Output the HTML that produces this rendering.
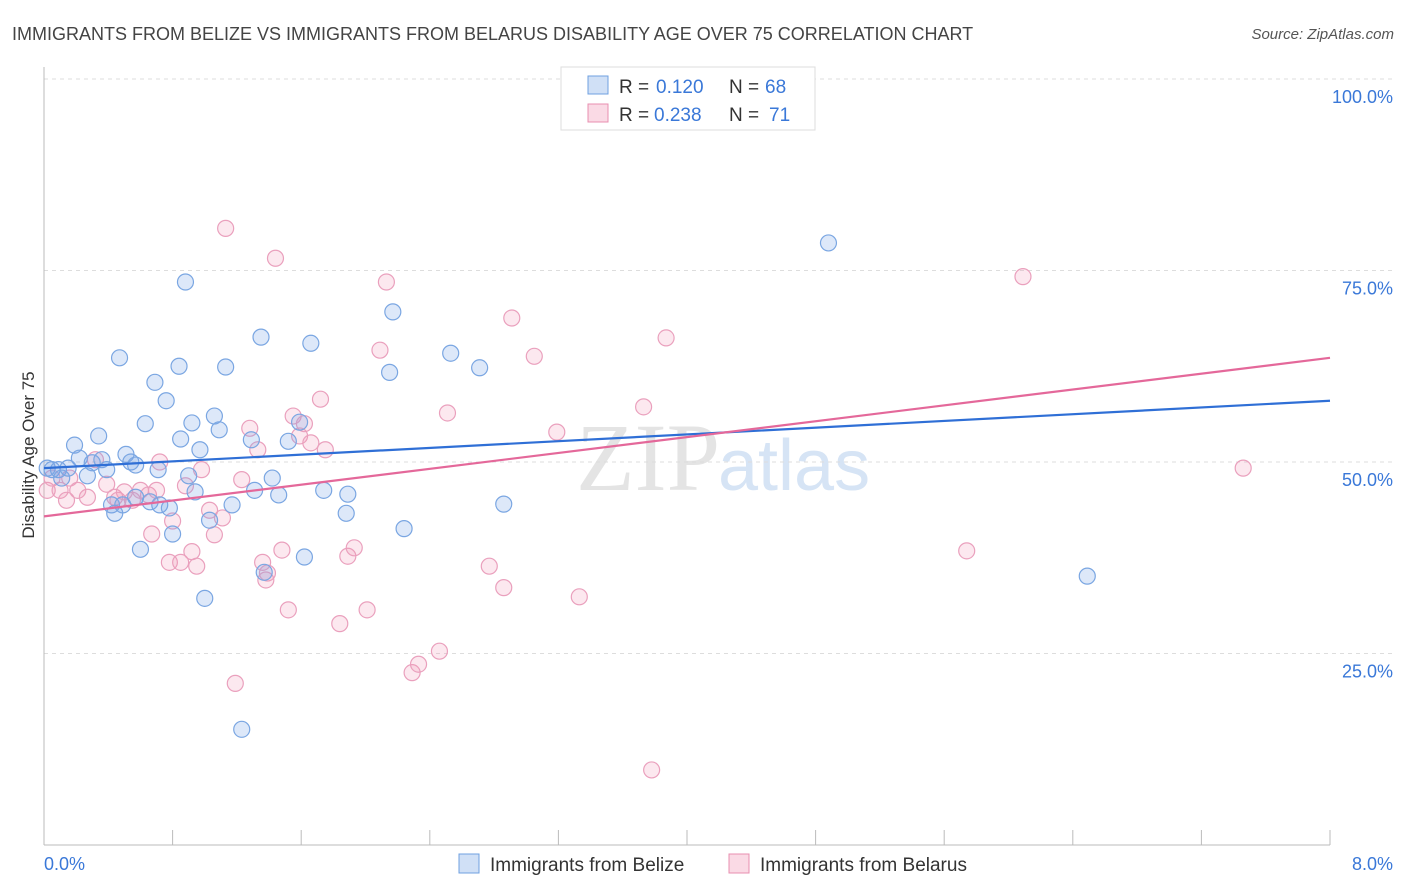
<!DOCTYPE html>
<html><head><meta charset="utf-8">
<style>
body{margin:0;background:#fff;font-family:"Liberation Sans",sans-serif;}
#wrap{position:relative;width:1406px;height:892px;overflow:hidden;}
</style></head>
<body>
<div id="wrap">
<svg id="chart" width="1406" height="892" xmlns="http://www.w3.org/2000/svg">
<text x="12" y="40" font-size="18" fill="#444">IMMIGRANTS FROM BELIZE VS IMMIGRANTS FROM BELARUS DISABILITY AGE OVER 75 CORRELATION CHART</text>
<text x="1394" y="39" font-size="15" fill="#555" font-style="italic" text-anchor="end">Source: ZipAtlas.com</text>
<text x="720" y="490" font-size="96" fill="#e4e4e4" font-family="Liberation Serif" text-anchor="end">ZIP</text>
<text x="718" y="490" font-size="72" fill="#d6e4f5">atlas</text>
<text x="34" y="455" font-size="17" fill="#333" text-anchor="middle" transform="rotate(-90 34 455)">Disability Age Over 75</text>
<g id="grid"></g><g id="pts"></g><g id="lines"></g>
<g>
<rect x="561" y="67" width="254" height="63" fill="#fff" stroke="#ddd"/>
<rect x="588" y="76" width="20" height="18" fill="rgba(120,165,230,0.35)" stroke="#6fa0e0"/>
<rect x="588" y="104" width="20" height="18" fill="rgba(240,150,180,0.35)" stroke="#e88fb0"/>
<text x="619" y="93" font-size="19" fill="#333">R =</text>
<text x="656" y="93" font-size="19" fill="#3a78d8">0.120</text>
<text x="729" y="93" font-size="19" fill="#333">N =</text>
<text x="765" y="93" font-size="19" fill="#3a78d8">68</text>
<text x="619" y="121" font-size="19" fill="#333">R =</text>
<text x="654" y="121" font-size="19" fill="#3a78d8">0.238</text>
<text x="729" y="121" font-size="19" fill="#333">N =</text>
<text x="769" y="121" font-size="19" fill="#3a78d8">71</text>
</g>
<g>
<rect x="459" y="854" width="20" height="19" fill="rgba(120,165,230,0.35)" stroke="#6fa0e0"/>
<text x="490" y="871" font-size="19" fill="#333">Immigrants from Belize</text>
<rect x="729" y="854" width="20" height="19" fill="rgba(240,150,180,0.35)" stroke="#e88fb0"/>
<text x="760" y="871" font-size="19" fill="#333">Immigrants from Belarus</text>
</g>
</svg>
</div>
<script>
const belizeX=[0.02,0.05,0.09,0.11,0.15,0.19,0.22,0.27,0.30,0.34,0.36,0.39,0.42,0.44,0.47,0.49,0.51,0.54,0.57,0.57,0.60,0.63,0.66,0.69,0.71,0.72,0.76,0.78,0.80,0.84,0.85,0.88,0.90,0.92,0.94,0.97,1.00,1.03,1.06,1.09,1.13,1.17,1.23,1.29,1.31,1.35,1.37,1.42,1.46,1.52,1.59,1.62,1.66,1.74,1.88,1.89,2.15,2.17,2.24,2.53,2.71,2.86,4.88,6.49];
const belizeY=[49.2,49.0,49.0,47.9,49.2,52.2,50.5,48.2,49.9,53.4,50.3,49.0,44.4,43.3,63.6,44.4,51.0,50.0,49.6,45.4,38.6,55.0,44.8,60.4,49.0,44.4,58.0,44.0,40.6,62.5,53.0,73.5,48.2,55.1,46.1,51.6,32.2,42.4,56.0,54.2,62.4,44.4,15.1,52.9,46.3,66.3,35.6,47.9,45.7,52.7,55.2,37.6,65.5,46.3,43.3,45.8,61.7,69.6,41.3,64.2,62.3,44.5,78.6,35.1];
const belarusX=[0.02,0.05,0.10,0.14,0.16,0.21,0.27,0.32,0.39,0.44,0.46,0.50,0.55,0.60,0.65,0.67,0.70,0.72,0.78,0.80,0.85,0.88,0.92,0.95,0.98,1.03,1.06,1.11,1.13,1.19,1.23,1.28,1.33,1.36,1.38,1.39,1.44,1.48,1.52,1.55,1.59,1.62,1.66,1.72,1.75,1.84,1.89,1.93,2.01,2.09,2.13,2.29,2.33,2.46,2.51,2.77,2.86,2.91,3.05,3.19,3.33,3.73,3.78,3.87,4.17,4.33,5.74,6.09,7.46];
const belarusY=[46.3,47.9,46.3,45.0,47.9,46.3,45.4,50.3,47.1,45.4,45.0,46.1,45.0,46.3,45.7,40.6,46.3,50.0,36.9,42.3,36.9,46.9,38.3,36.4,49.0,43.7,40.5,42.7,80.5,21.1,47.7,54.4,51.6,36.9,34.6,35.5,76.6,38.5,30.7,56.0,53.4,55.0,52.5,58.2,51.6,28.9,37.7,38.8,30.7,64.6,73.5,22.5,23.6,25.3,56.4,36.4,33.6,68.8,63.8,53.9,32.4,57.2,9.8,66.2,99.7,99.7,38.4,74.2,49.2];
const trendBelize=[49.2,58.0];
const trendBelarus=[42.9,63.6];
const yTicks=[25,50,75,100];
const xTicks=[0,0.8,1.6,2.4,3.2,4.0,4.8,5.6,6.4,7.2,8.0];
const NS="http://www.w3.org/2000/svg";
const X=v=>44+v/8*1286, Y=v=>845-v/100*766;
function mk(tag,attrs,parent){const e=document.createElementNS(NS,tag);for(const k in attrs)e.setAttribute(k,attrs[k]);parent.appendChild(e);return e;}
const grid=document.getElementById('grid');
yTicks.forEach(t=>{
  const l=mk('line',{x1:44,x2:1393,y1:Y(t),y2:Y(t),stroke:'#ddd','stroke-dasharray':'4,4'},grid);
  
  
  const tx=mk('text',{x:1393,y:Y(t)+24,'font-size':18,fill:'#3a78d8','text-anchor':'end'},grid);
  tx.textContent=t.toFixed(1)+'%';
  
  
});
const ax=mk('line',{x1:44,x2:1330,y1:845,y2:845,stroke:'#bbb'},grid);


const ay=mk('line',{x1:44,x2:44,y1:67,y2:845,stroke:'#bbb'},grid);


xTicks.forEach(t=>{
  const l=mk('line',{x1:X(t),x2:X(t),y1:830,y2:845,stroke:'#bbb'},grid);
  
  
});
const xl0=mk('text',{x:44,y:870,'font-size':18,fill:'#3a78d8'},grid);xl0.textContent=xTicks[0].toFixed(1)+'%';


const xl1=mk('text',{x:1393,y:870,'font-size':18,fill:'#3a78d8','text-anchor':'end'},grid);xl1.textContent=xTicks[xTicks.length-1].toFixed(1)+'%';


const pts=document.getElementById('pts');
belarusX.forEach((x,i)=>{
  const c=mk('circle',{cx:X(x),cy:Y(belarusY[i]),r:8,fill:'rgba(240,150,180,0.22)',stroke:'#eaa0bd','stroke-width':1.2},pts);
  
  
});
belizeX.forEach((x,i)=>{
  const c=mk('circle',{cx:X(x),cy:Y(belizeY[i]),r:8,fill:'rgba(120,165,230,0.25)',stroke:'#7aa6e2','stroke-width':1.2},pts);
  
  
});
const lines=document.getElementById('lines');
const lb=mk('line',{x1:X(0),y1:Y(trendBelize[0]),x2:X(8),y2:Y(trendBelize[1]),stroke:'#2f6fd6','stroke-width':2.2},lines);


const lp=mk('line',{x1:X(0),y1:Y(trendBelarus[0]),x2:X(8),y2:Y(trendBelarus[1]),stroke:'#e4689a','stroke-width':2.2},lines);


</script>
</body></html>
